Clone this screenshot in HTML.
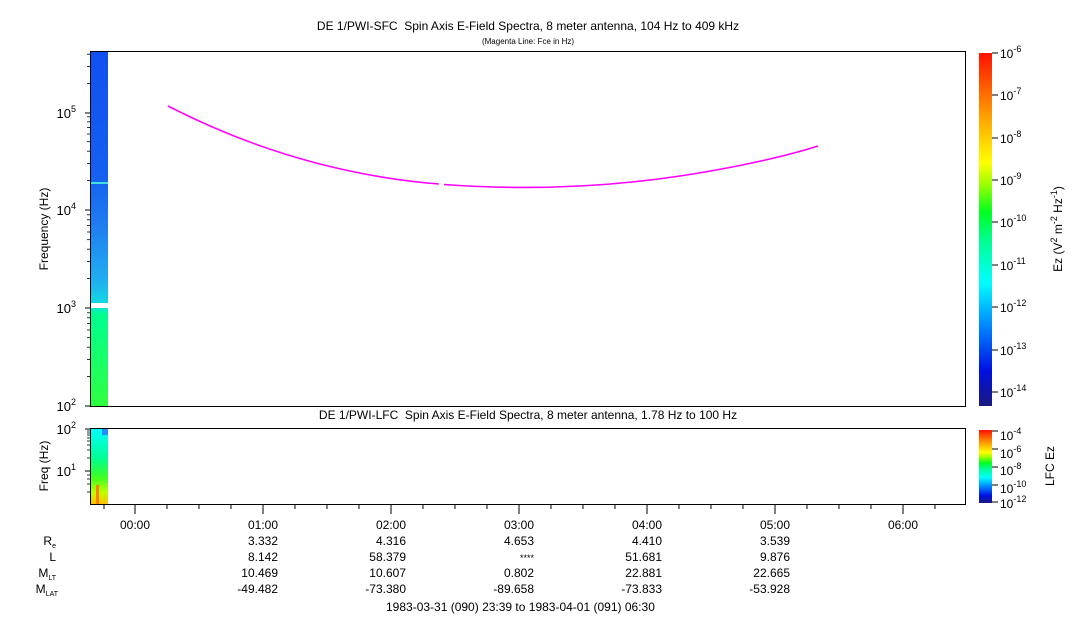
<!DOCTYPE html>
<html><head><style>
html,body{margin:0;padding:0;background:#fff;}
svg text{font-family:"Liberation Sans",Arial,sans-serif;fill:#000;white-space:pre;}
</style></head><body>
<svg width="1083" height="620" viewBox="0 0 1083 620" xmlns="http://www.w3.org/2000/svg">
<defs>
<linearGradient id="cb" x1="0" y1="1" x2="0" y2="0">
<stop offset="0" stop-color="#1a1a80"/>
<stop offset="0.1" stop-color="#0010e0"/>
<stop offset="0.22" stop-color="#0080ff"/>
<stop offset="0.35" stop-color="#00ffff"/>
<stop offset="0.47" stop-color="#00ff90"/>
<stop offset="0.55" stop-color="#00ff20"/>
<stop offset="0.63" stop-color="#a0ff00"/>
<stop offset="0.69" stop-color="#ffff00"/>
<stop offset="0.8" stop-color="#ffb000"/>
<stop offset="0.9" stop-color="#ff6000"/>
<stop offset="1" stop-color="#ff1000"/>
</linearGradient>
<linearGradient id="sp" x1="0" y1="0" x2="0" y2="1">
<stop offset="0" stop-color="#1050f0"/>
<stop offset="0.35" stop-color="#1560f0"/>
<stop offset="0.5" stop-color="#2080f0"/>
<stop offset="0.65" stop-color="#20b0f0"/>
<stop offset="0.72" stop-color="#10e0e0"/>
<stop offset="0.74" stop-color="#00ff90"/>
<stop offset="1" stop-color="#30ff40"/>
</linearGradient>
<linearGradient id="sp2" x1="0" y1="0" x2="0" y2="1">
<stop offset="0" stop-color="#00ffff"/>
<stop offset="0.4" stop-color="#00ff90"/>
<stop offset="0.65" stop-color="#40ff20"/>
<stop offset="0.85" stop-color="#c0ff00"/>
<stop offset="1" stop-color="#ffc000"/>
</linearGradient>
</defs>
<text x="528" y="30" font-size="12" text-anchor="middle">DE 1/PWI-SFC&#160; Spin Axis E-Field Spectra, 8 meter antenna, 104 Hz to 409 kHz</text>
<text x="528" y="44" font-size="8" text-anchor="middle">(Magenta Line: Fce in Hz)</text>
<rect x="91" y="52" width="17" height="354" fill="url(#sp)"/>
<rect x="91" y="303" width="17" height="5" fill="#fff"/>
<line x1="91" y1="183" x2="108" y2="183" stroke="#40e0e0" stroke-width="2"/>
<path d="M168,106 C250,148 340,176 439,184" fill="none" stroke="#ff00ff" stroke-width="1.6"/>
<path d="M444,184.5 C520,190 600,188 680,176 C740,167 790,155 818,146" fill="none" stroke="#ff00ff" stroke-width="1.6"/>
<rect x="90.5" y="51.5" width="875" height="355" fill="none" stroke="#000"/>
<g stroke="#000">
<line x1="85" y1="406" x2="90" y2="406"/><line x1="85" y1="308" x2="90" y2="308"/><line x1="85" y1="210" x2="90" y2="210"/><line x1="85" y1="113" x2="90" y2="113"/>
<g stroke-width="0.8">
<line x1="87" y1="376.6" x2="90" y2="376.6"/><line x1="87" y1="359.4" x2="90" y2="359.4"/><line x1="87" y1="347.2" x2="90" y2="347.2"/><line x1="87" y1="337.7" x2="90" y2="337.7"/><line x1="87" y1="330" x2="90" y2="330"/><line x1="87" y1="323.4" x2="90" y2="323.4"/><line x1="87" y1="317.8" x2="90" y2="317.8"/><line x1="87" y1="312.8" x2="90" y2="312.8"/>
<line x1="87" y1="278.6" x2="90" y2="278.6"/><line x1="87" y1="261.4" x2="90" y2="261.4"/><line x1="87" y1="249.2" x2="90" y2="249.2"/><line x1="87" y1="239.7" x2="90" y2="239.7"/><line x1="87" y1="232" x2="90" y2="232"/><line x1="87" y1="225.4" x2="90" y2="225.4"/><line x1="87" y1="219.8" x2="90" y2="219.8"/><line x1="87" y1="214.8" x2="90" y2="214.8"/>
<line x1="87" y1="180.6" x2="90" y2="180.6"/><line x1="87" y1="163.4" x2="90" y2="163.4"/><line x1="87" y1="151.2" x2="90" y2="151.2"/><line x1="87" y1="141.7" x2="90" y2="141.7"/><line x1="87" y1="134" x2="90" y2="134"/><line x1="87" y1="127.4" x2="90" y2="127.4"/><line x1="87" y1="121.8" x2="90" y2="121.8"/><line x1="87" y1="116.8" x2="90" y2="116.8"/>
<line x1="87" y1="83.6" x2="90" y2="83.6"/><line x1="87" y1="66.4" x2="90" y2="66.4"/><line x1="87" y1="54.2" x2="90" y2="54.2"/>
</g></g>
<g font-size="13" text-anchor="end">
<text x="76" y="411">10<tspan font-size="9" dy="-6">2</tspan></text>
<text x="76" y="313">10<tspan font-size="9" dy="-6">3</tspan></text>
<text x="76" y="215">10<tspan font-size="9" dy="-6">4</tspan></text>
<text x="76" y="118">10<tspan font-size="9" dy="-6">5</tspan></text>
</g>
<text transform="translate(48,229) rotate(-90)" font-size="12" text-anchor="middle">Frequency (Hz)</text>
<rect x="979" y="53" width="13" height="353" fill="url(#cb)"/>
<g stroke="#000">
<line x1="992" y1="53" x2="998" y2="53"/><line x1="992" y1="95" x2="998" y2="95"/><line x1="992" y1="138" x2="998" y2="138"/><line x1="992" y1="180" x2="998" y2="180"/><line x1="992" y1="222" x2="998" y2="222"/><line x1="992" y1="265" x2="998" y2="265"/><line x1="992" y1="307" x2="998" y2="307"/><line x1="992" y1="350" x2="998" y2="350"/><line x1="992" y1="392" x2="998" y2="392"/>
</g>
<g font-size="12">
<text x="1000" y="58">10<tspan font-size="9" dy="-6">-6</tspan></text>
<text x="1000" y="100">10<tspan font-size="9" dy="-6">-7</tspan></text>
<text x="1000" y="143">10<tspan font-size="9" dy="-6">-8</tspan></text>
<text x="1000" y="185">10<tspan font-size="9" dy="-6">-9</tspan></text>
<text x="1000" y="227">10<tspan font-size="9" dy="-6">-10</tspan></text>
<text x="1000" y="270">10<tspan font-size="9" dy="-6">-11</tspan></text>
<text x="1000" y="312">10<tspan font-size="9" dy="-6">-12</tspan></text>
<text x="1000" y="355">10<tspan font-size="9" dy="-6">-13</tspan></text>
<text x="1000" y="397">10<tspan font-size="9" dy="-6">-14</tspan></text>
</g>
<text transform="translate(1062,229) rotate(-90)" font-size="12" text-anchor="middle">Ez (V<tspan font-size="9" dy="-5">2</tspan><tspan dy="5"> m</tspan><tspan font-size="9" dy="-5">-2</tspan><tspan dy="5"> Hz</tspan><tspan font-size="9" dy="-5">-1</tspan><tspan dy="5">)</tspan></text>
<text x="528" y="419" font-size="12" text-anchor="middle">DE 1/PWI-LFC&#160; Spin Axis E-Field Spectra, 8 meter antenna, 1.78 Hz to 100 Hz</text>
<rect x="91" y="429" width="17" height="75" fill="url(#sp2)"/>
<rect x="102" y="429" width="6" height="6" fill="#2090ff"/>
<rect x="96" y="485" width="3" height="19" fill="#ff8000"/>
<rect x="90.5" y="428.5" width="875" height="76" fill="none" stroke="#000"/>
<g stroke="#000">
<line x1="85" y1="429" x2="90" y2="429"/><line x1="85" y1="471" x2="90" y2="471"/>
<g stroke-width="0.8"><line x1="87" y1="492" x2="90" y2="492"/><line x1="87" y1="484" x2="90" y2="484"/><line x1="87" y1="479" x2="90" y2="479"/><line x1="87" y1="475" x2="90" y2="475"/><line x1="87" y1="458" x2="90" y2="458"/><line x1="87" y1="450" x2="90" y2="450"/><line x1="87" y1="445" x2="90" y2="445"/><line x1="87" y1="441" x2="90" y2="441"/><line x1="87" y1="438" x2="90" y2="438"/><line x1="87" y1="435" x2="90" y2="435"/><line x1="87" y1="433" x2="90" y2="433"/><line x1="87" y1="431" x2="90" y2="431"/></g>
</g>
<g font-size="13" text-anchor="end">
<text x="76" y="434">10<tspan font-size="9" dy="-6">2</tspan></text>
<text x="76" y="476">10<tspan font-size="9" dy="-6">1</tspan></text>
</g>
<text transform="translate(48,466) rotate(-90)" font-size="12" text-anchor="middle">Freq (Hz)</text>
<rect x="979" y="430" width="13" height="73" fill="url(#cb)"/>
<g stroke="#000"><line x1="992" y1="431" x2="998" y2="431"/><line x1="992" y1="449" x2="998" y2="449"/><line x1="992" y1="467" x2="998" y2="467"/><line x1="992" y1="485" x2="998" y2="485"/><line x1="992" y1="502" x2="998" y2="502"/></g>
<g font-size="12">
<text x="1000" y="440">10<tspan font-size="9" dy="-6">-4</tspan></text>
<text x="1000" y="458">10<tspan font-size="9" dy="-6">-6</tspan></text>
<text x="1000" y="475">10<tspan font-size="9" dy="-6">-8</tspan></text>
<text x="1000" y="493">10<tspan font-size="9" dy="-6">-10</tspan></text>
<text x="1000" y="508">10<tspan font-size="9" dy="-6">-12</tspan></text>
</g>
<text transform="translate(1054,466) rotate(-90)" font-size="12" text-anchor="middle">LFC Ez</text>
<g stroke="#000">
<line x1="135" y1="504" x2="135" y2="514"/><line x1="263" y1="504" x2="263" y2="514"/><line x1="391" y1="504" x2="391" y2="514"/><line x1="519" y1="504" x2="519" y2="514"/><line x1="647" y1="504" x2="647" y2="514"/><line x1="775" y1="504" x2="775" y2="514"/><line x1="903" y1="504" x2="903" y2="514"/>
<line x1="104" y1="504" x2="104" y2="509"/><line x1="167" y1="504" x2="167" y2="509"/><line x1="199" y1="504" x2="199" y2="509"/><line x1="231" y1="504" x2="231" y2="509"/><line x1="295" y1="504" x2="295" y2="509"/><line x1="327" y1="504" x2="327" y2="509"/><line x1="359" y1="504" x2="359" y2="509"/><line x1="423" y1="504" x2="423" y2="509"/><line x1="455" y1="504" x2="455" y2="509"/><line x1="487" y1="504" x2="487" y2="509"/><line x1="551" y1="504" x2="551" y2="509"/><line x1="583" y1="504" x2="583" y2="509"/><line x1="615" y1="504" x2="615" y2="509"/><line x1="679" y1="504" x2="679" y2="509"/><line x1="711" y1="504" x2="711" y2="509"/><line x1="743" y1="504" x2="743" y2="509"/><line x1="807" y1="504" x2="807" y2="509"/><line x1="839" y1="504" x2="839" y2="509"/><line x1="871" y1="504" x2="871" y2="509"/><line x1="935" y1="504" x2="935" y2="509"/>
</g>
<g font-size="12" text-anchor="middle">
<text x="135" y="529">00:00</text><text x="263" y="529">01:00</text><text x="391" y="529">02:00</text><text x="519" y="529">03:00</text><text x="647" y="529">04:00</text><text x="775" y="529">05:00</text><text x="903" y="529">06:00</text>
</g>
<g font-size="12" text-anchor="end">
<text x="56" y="545">R<tspan font-size="7" dy="3">e</tspan></text>
<text x="56" y="561">L</text>
<text x="56" y="577">M<tspan font-size="7" dy="3">LT</tspan></text>
<text x="58" y="593">M<tspan font-size="7" dy="3">LAT</tspan></text>
<text x="278" y="545">3.332</text><text x="406" y="545">4.316</text><text x="534" y="545">4.653</text><text x="662" y="545">4.410</text><text x="790" y="545">3.539</text>
<text x="278" y="561">8.142</text><text x="406" y="561">58.379</text><text x="534" y="561" font-size="9">****</text><text x="662" y="561">51.681</text><text x="790" y="561">9.876</text>
<text x="278" y="577">10.469</text><text x="406" y="577">10.607</text><text x="534" y="577">0.802</text><text x="662" y="577">22.881</text><text x="790" y="577">22.665</text>
<text x="278" y="593">-49.482</text><text x="406" y="593">-73.380</text><text x="534" y="593">-89.658</text><text x="662" y="593">-73.833</text><text x="790" y="593">-53.928</text>
</g>
<text x="386" y="611" font-size="12">1983-03-31 (090) 23:39 to 1983-04-01 (091) 06:30</text>
</svg>
</body></html>
